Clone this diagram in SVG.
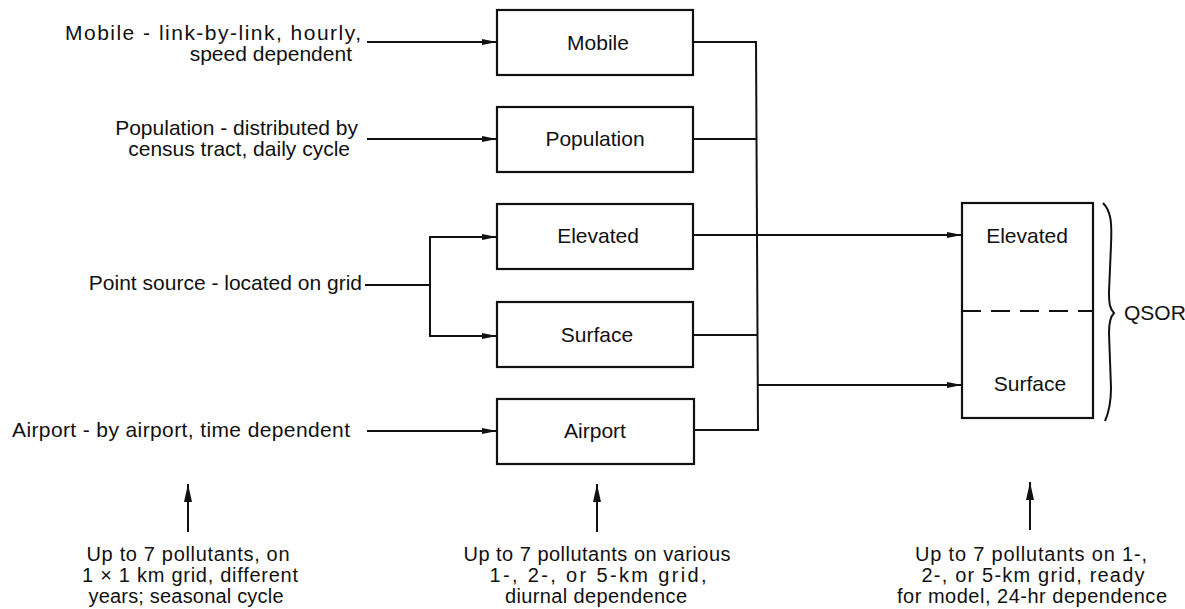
<svg xmlns="http://www.w3.org/2000/svg" width="1185" height="609" viewBox="0 0 1185 609">
  <style>
    .t { font-family: "Liberation Sans", Arial, sans-serif; font-size: 21px; fill: #111; }
    .n { font-size: 20px; }
    .c { text-anchor: middle; }
    .e { text-anchor: end; }
    .box { fill: #fff; stroke: #111; stroke-width: 2.2; }
    .ln { fill: none; stroke: #111; stroke-width: 2; }
    .arr { marker-end: url(#ah); }
    .up { marker-end: url(#ahBig); }
  </style>
  <defs>
    <marker id="ah" markerUnits="userSpaceOnUse" viewBox="0 0 15 8" refX="15" refY="4" markerWidth="15" markerHeight="8" orient="auto">
      <path d="M0,1 L15,4 L0,7 Z" fill="#111"/>
    </marker>
    <marker id="ahBig" markerUnits="userSpaceOnUse" viewBox="0 0 18 10" refX="18" refY="5" markerWidth="18" markerHeight="10" orient="auto">
      <path d="M0,1 L18,5 L0,9 Z" fill="#111"/>
    </marker>
  </defs>
  <rect width="1185" height="609" fill="#fff"/>

  <!-- source descriptions -->
  <g id="src-mobile">
    <text class="t e" x="361" y="40" textLength="296" lengthAdjust="spacing">Mobile - link-by-link, hourly,</text>
    <text class="t e" x="352" y="61">speed dependent</text>
  </g>
  <g id="src-population">
    <text class="t e" x="358" y="135">Population - distributed by</text>
    <text class="t e" x="350" y="156">census tract, daily cycle</text>
  </g>
  <g id="src-point">
    <text class="t e" x="362" y="290">Point source - located on grid</text>
  </g>
  <g id="src-airport">
    <text class="t e" x="350" y="437" textLength="338" lengthAdjust="spacing">Airport - by airport, time dependent</text>
  </g>

  <!-- emission inventory boxes -->
  <g id="node-mobile">
    <rect class="box" x="497" y="10" width="196" height="65"/>
    <text class="t c" x="598" y="50">Mobile</text>
  </g>
  <g id="node-population">
    <rect class="box" x="497" y="107" width="196" height="65"/>
    <text class="t c" x="595" y="146">Population</text>
  </g>
  <g id="node-elevated">
    <rect class="box" x="497" y="204" width="196" height="65"/>
    <text class="t c" x="598" y="243">Elevated</text>
  </g>
  <g id="node-surface">
    <rect class="box" x="497" y="302" width="196" height="65"/>
    <text class="t c" x="597" y="342">Surface</text>
  </g>
  <g id="node-airport">
    <rect class="box" x="497" y="399" width="197" height="65"/>
    <text class="t c" x="595" y="438">Airport</text>
  </g>

  <!-- QSOR combined file -->
  <g id="node-qsor">
    <rect class="box" x="962" y="203" width="131" height="215"/>
    <line x1="962" y1="311" x2="1093" y2="311" stroke="#111" stroke-width="2.2" stroke-dasharray="19,10"/>
    <text class="t c" x="1027" y="243">Elevated</text>
    <text class="t c" x="1030" y="391">Surface</text>
    <path class="ln" d="M1103,203 C1111,211 1112,222 1111,245 L1109,292 C1109,304 1110,309 1114,313 C1110,317 1109,323 1109,333 L1111,388 C1111,404 1109,412 1105,421"/>
    <text class="t" x="1124" y="320" font-size="20">QSOR</text>
  </g>

  <!-- stage descriptions -->
  <g id="note-inputs">
    <text class="t n c" x="188" y="561" textLength="203" lengthAdjust="spacing">Up to 7 pollutants, on</text>
    <text class="t n c" x="190" y="582" textLength="216" lengthAdjust="spacing">1 × 1 km grid, different</text>
    <text class="t n c" x="186" y="603" textLength="195" lengthAdjust="spacing">years; seasonal cycle</text>
  </g>
  <g id="note-inventory">
    <text class="t n c" x="597" y="561" textLength="267" lengthAdjust="spacing">Up to 7 pollutants on various</text>
    <text class="t n c" x="598" y="582" textLength="217" lengthAdjust="spacing">1-, 2-, or 5-km grid,</text>
    <text class="t n c" x="596" y="603" textLength="182" lengthAdjust="spacing">diurnal dependence</text>
  </g>
  <g id="note-qsor">
    <text class="t n c" x="1031" y="561" textLength="232" lengthAdjust="spacing">Up to 7 pollutants on 1-,</text>
    <text class="t n c" x="1033" y="582" textLength="223" lengthAdjust="spacing">2-, or 5-km grid, ready</text>
    <text class="t n c" x="1032" y="603" textLength="270" lengthAdjust="spacing">for model, 24-hr dependence</text>
  </g>

  <!-- connectors -->
  <g id="connectors">
    <line class="ln arr" x1="367" y1="42" x2="497" y2="42"/>
    <line class="ln arr" x1="367" y1="139" x2="497" y2="139"/>
    <line class="ln" x1="365" y1="285" x2="430" y2="285"/>
    <line class="ln" x1="430" y1="236" x2="430" y2="337"/>
    <line class="ln arr" x1="429" y1="237" x2="497" y2="237"/>
    <line class="ln arr" x1="429" y1="336" x2="497" y2="336"/>
    <line class="ln arr" x1="367" y1="431" x2="497" y2="431"/>

    <line class="ln" x1="693" y1="42" x2="756" y2="42"/>
    <line class="ln" x1="693" y1="139" x2="756" y2="139"/>
    <line class="ln" x1="693" y1="335" x2="757" y2="335"/>
    <line class="ln" x1="694" y1="430" x2="758" y2="430"/>
    <path class="ln" d="M756,41 L758,431"/>
    <line class="ln arr" x1="693" y1="235" x2="962" y2="235"/>
    <line class="ln arr" x1="757" y1="385" x2="962" y2="385"/>

    <line class="ln up" x1="188" y1="532" x2="188" y2="484"/>
    <line class="ln up" x1="597" y1="532" x2="597" y2="484"/>
    <line class="ln up" x1="1030" y1="530" x2="1030" y2="482"/>
  </g>
</svg>
